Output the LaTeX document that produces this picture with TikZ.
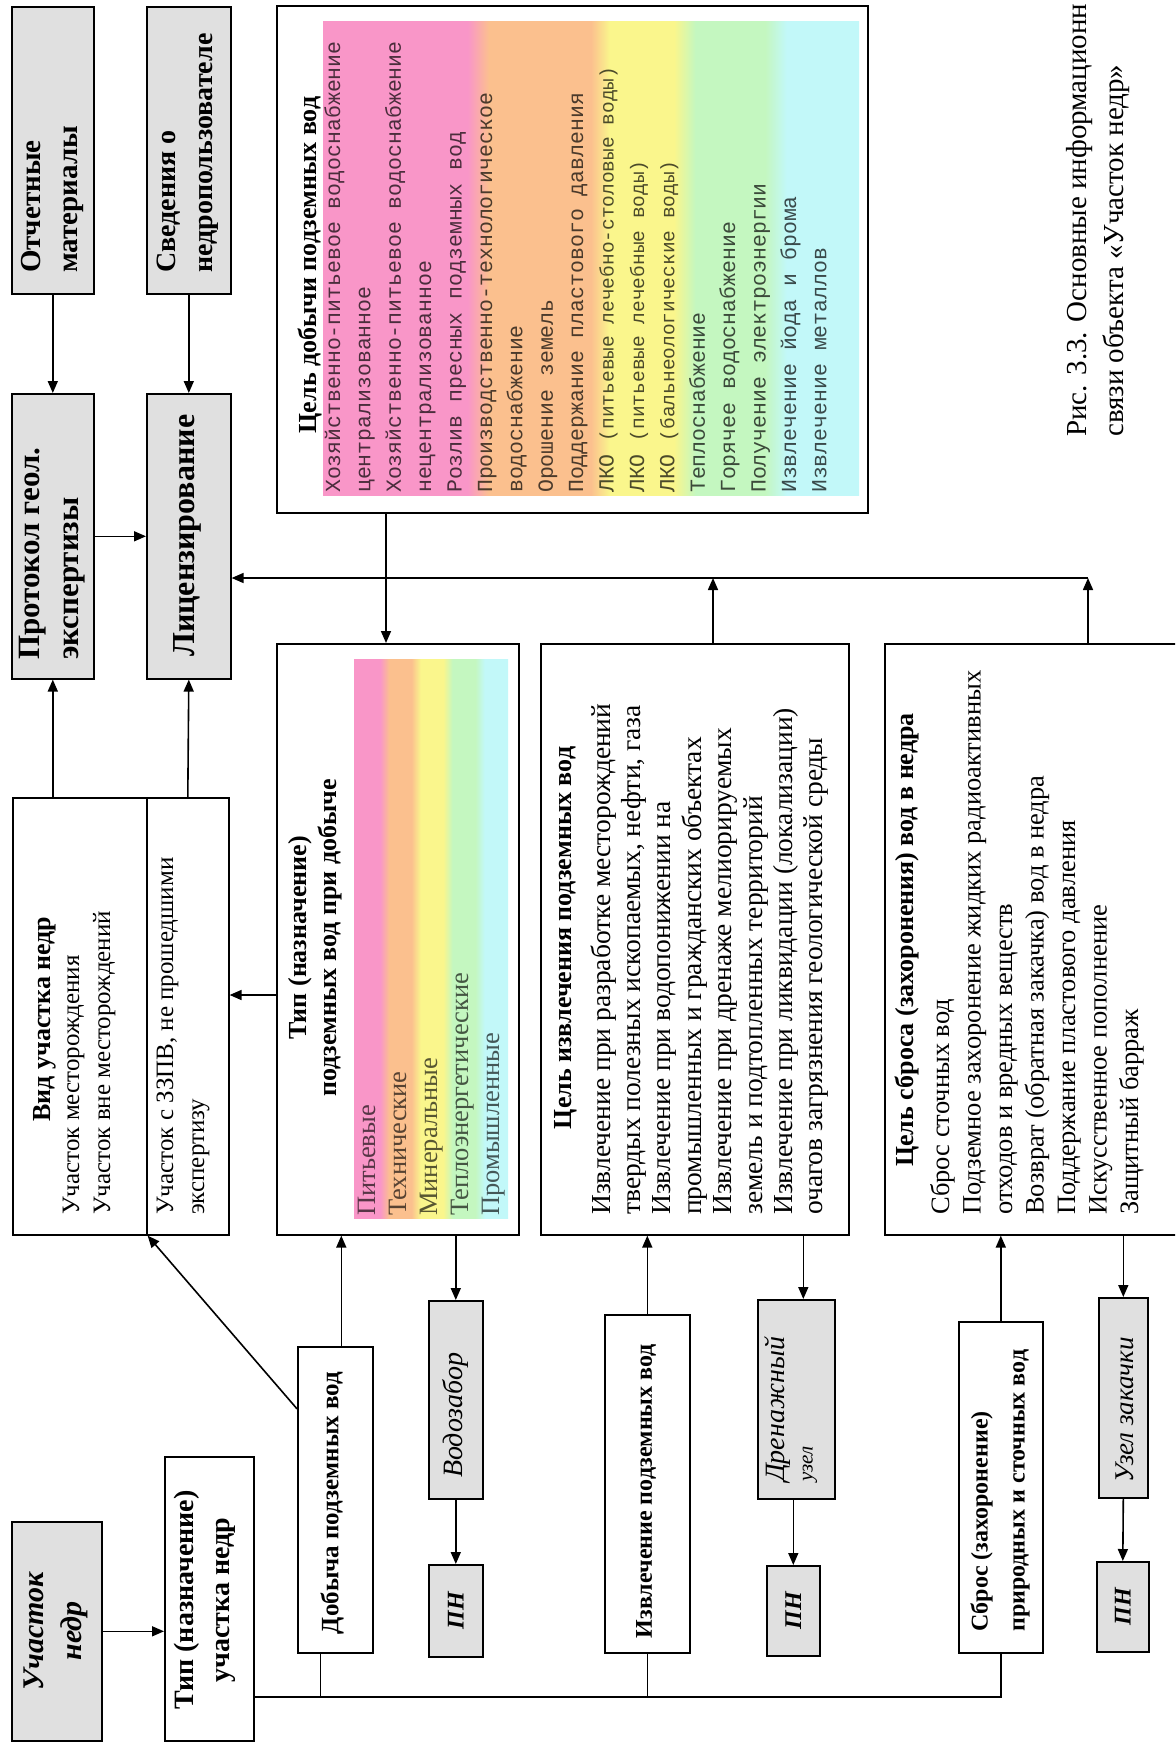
\documentclass[tikz,border=0pt]{standalone}
\usepackage{fontspec}
\setmainfont{Liberation Serif}
\newfontfamily\listfont{Liberation Mono}
\usetikzlibrary{positioning,arrows.meta}

\definecolor{bandpink}{RGB}{249,150,200}
\definecolor{bandorange}{RGB}{251,192,142}
\definecolor{bandyellow}{RGB}{250,246,140}
\definecolor{bandgreen}{RGB}{196,247,192}
\definecolor{bandcyan}{RGB}{194,248,249}
\definecolor{boxgrey}{RGB}{224,224,224}

% rainbow strips behind the lists (path is mapped onto 25bp..75bp)
\pgfdeclarehorizontalshading{goalbands}{100bp}{color(0bp)=(bandpink); color(38.5bp)=(bandpink);
  color(40.5bp)=(bandorange); color(50bp)=(bandorange); color(51.75bp)=(bandyellow);
  color(57.75bp)=(bandyellow); color(59.75bp)=(bandgreen); color(66.25bp)=(bandgreen);
  color(68.25bp)=(bandcyan); color(100bp)=(bandcyan)}
\pgfdeclarehorizontalshading{typbands}{100bp}{color(0bp)=(bandpink); color(33.5bp)=(bandpink);
  color(36.5bp)=(bandorange); color(43.65bp)=(bandorange); color(46.65bp)=(bandyellow);
  color(54bp)=(bandyellow); color(57bp)=(bandgreen); color(64.4bp)=(bandgreen);
  color(67.4bp)=(bandcyan); color(100bp)=(bandcyan)}

\newcommand\smallmono{\fontsize{19.5}{24}\selectfont}

\begin{document}
\begin{tikzpicture}[x=1pt, y=-1pt,
  boxframe/.style={draw, line width=1.6pt, inner sep=0pt, anchor=north west},
  greybox/.style={boxframe, fill=boxgrey},
  plainbox/.style={boxframe, fill=white},
  dims/.style 2 args={minimum width=#1, minimum height=#2},
  txt/.style={rotate=90, inner sep=0pt},
  greylabel/.style={txt, anchor=west, align=left, font=\bfseries\fontsize{29}{37}\selectfont},
  boxhead/.style={txt, align=center, font=\bfseries\fontsize{26}{30}\selectfont},
  entry/.style={txt, anchor=west, font=\fontsize{26.5}{30}\selectfont, text height=18pt, text depth=6pt},
  listentry/.style={txt, anchor=west, font=\listfont\fontsize{21.5}{26}\selectfont, text height=15pt, text depth=5pt},
  stage/.style={txt, align=center, font=\bfseries\fontsize{25}{37}\selectfont},
  tagtext/.style={txt, font=\bfseries\itshape\fontsize{24}{28}\selectfont},
  arr/.style={line width=1.6pt, -{Triangle[length=12pt, width=10pt]}},
  wire/.style={line width=1.6pt}]

\useasboundingbox (0,0) rectangle (1175,1742);
\fill[white] (0,0) rectangle (1175,1742);
\clip (0,0) rectangle (1175,1742);

% boxes
\node[greybox, dims={82}{287}] (otch) at (11,6) {};
\node[greybox, dims={84}{287}] (sved) at (146,6) {};
\node[greybox, dims={82}{285}] (prot) at (11,393) {};
\node[greybox, dims={84}{285}] (lic) at (146,393) {};
\node[plainbox, dims={591}{507}] (goal) at (276,5) {};
\node[plainbox, dims={134}{437}] (vidA) at (12,797) {};
\node[plainbox, dims={82}{437}] (vidB) at (146,797) {};
\node[plainbox, dims={242}{591}] (typ) at (276,643) {};
\node[plainbox, dims={308}{591}] (izv) at (540,643) {};
\node[plainbox, dims={330}{591}] (sbr) at (884,643) {};
\node[greybox, dims={90}{219}] (uch) at (11,1521) {};
\node[plainbox, dims={89}{284}] (tipu) at (164,1456) {};
\node[plainbox, dims={75}{306}] (dob) at (297,1346) {};
\node[greybox, dims={54}{198}] (vz) at (428,1300) {};
\node[greybox, dims={54}{92}] (pn1) at (428,1564) {};
\node[plainbox, dims={85}{338}] (ext) at (604,1314) {};
\node[greybox, dims={77}{199}] (dren) at (757,1299) {};
\node[greybox, dims={53}{90}] (pn2) at (766,1565) {};
\node[plainbox, dims={84}{331}] (dis) at (958,1321) {};
\node[greybox, dims={49}{200}] (uz) at (1098,1297) {};
\node[greybox, dims={52}{90}] (pn3) at (1096,1561) {};

\shade[shading=goalbands] (323,22) rectangle (859,495);
\shade[shading=typbands] (354,659) rectangle (508,1218);

% labels
\node[greylabel] (otchT) at (52,273) {Отчетные\\материалы};
\node[greylabel, font=\bfseries\fontsize{28}{37}\selectfont] (svedT) at (188,273) {Сведения о\\недропользователе};
\node[greylabel, font=\bfseries\fontsize{31}{39}\selectfont] (protT) at (52,660) {Протокол геол.\\экспертизы};
\node[greylabel, font=\bfseries\fontsize{32}{37}\selectfont] (licT) at (187,657) {Лицензирование};

\node[boxhead] (goalT) at (310,265) {Цель добычи подземных вод};
\foreach \lbl/\col [count=\n] in {
    Хозяйственно-питьевое водоснабжение/bandpink, централизованное/bandpink,
    Хозяйственно-питьевое водоснабжение/bandpink, нецентрализованное/bandpink,
    Розлив пресных подземных вод/bandpink,
    Производственно-технологическое/bandorange, водоснабжение/bandorange,
    Орошение земель/bandorange, Поддержание пластового давления/bandorange,
    {ЛКО \smallmono(питьевые лечебно-столовые воды)}/bandyellow,
    {ЛКО \smallmono(питьевые лечебные воды)}/bandyellow,
    {ЛКО \smallmono(бальнеологические воды)}/bandyellow,
    Теплоснабжение/bandgreen, Горячее водоснабжение/bandgreen,
    Получение электроэнергии/bandgreen,
    Извлечение йода и брома/bandcyan, Извлечение металлов/bandcyan}
  \node[listentry, text=\col!30!black] at (304.6+30.4*\n, 493) {\lbl};

\node[boxhead] (vidT) at (45,1019) {Вид участка недр};
\foreach \lbl [count=\n] in {Участок месторождения, Участок вне месторождений}
  \node[entry, font=\fontsize{25}{30}\selectfont] at (42+31*\n, 1215) {\lbl};
\foreach \lbl [count=\n] in {{Участок с ЗЗПВ, не прошедшими}, экспертизу}
  \node[entry, font=\fontsize{25}{30}\selectfont] at (136+31*\n, 1215) {\lbl};

\node[boxhead] (typT) at (315,938) {Тип (назначение)\\подземных вод при добыче};
\foreach \lbl/\col [count=\n] in {Питьевые/bandpink, Технические/bandorange,
    Минеральные/bandyellow, Теплоэнергетические/bandgreen, Промышленные/bandcyan}
  \node[entry, text=\col!35!black] at (338+31*\n, 1216) {\lbl};

\node[boxhead] (izvT) at (566,938) {Цель извлечения подземных вод};
\foreach \lbl [count=\n] in {Извлечение при разработке месторождений,
    {твердых полезных ископаемых, нефти, газа},
    Извлечение при водопонижении на, промышленных и гражданских объектах,
    Извлечение при дренаже мелиорируемых, земель и подтопленных территорий,
    Извлечение при ликвидации (локализации), очагов загрязнения геологической среды}
  \node[entry, font=\fontsize{27.5}{30}\selectfont] at (573.6+30.4*\n, 1215) {\lbl};

\node[boxhead] (sbrT) at (907,940) {Цель сброса (захоронения) вод в недра};
\foreach \lbl [count=\n] in {Сброс сточных вод, Подземное захоронение жидких радиоактивных,
    отходов и вредных веществ, Возврат (обратная закачка) вод в недра,
    Поддержание пластового давления, Искусственное пополнение, Защитный барраж}
  \node[entry] at (911.5+31.5*\n, 1215) {\lbl};

\node[tagtext, align=center, font=\bfseries\itshape\fontsize{30}{38}\selectfont] (uchT) at (56,1631) {Участок\\недр};
\node[stage, font=\bfseries\fontsize{28}{36}\selectfont] (tipuT) at (205,1600) {Тип (назначение)\\участка недр};
\node[stage] (dobT) at (332,1503) {Добыча подземных вод};
\node[stage, font=\bfseries\fontsize{24}{30}\selectfont] (extT) at (646,1491) {Извлечение подземных вод};
\node[stage, anchor=west, align=left, font=\bfseries\fontsize{24}{37}\selectfont] (disT) at (1000,1632) {Сброс (захоронение)\\природных и сточных вод};
\node[tagtext, anchor=west, font=\itshape\fontsize{28}{30}\selectfont] (vzT) at (455,1478) {Водозабор};
\node[tagtext, anchor=west, font=\itshape\fontsize{28}{30}\selectfont] (drenT) at (778,1482) {Дренажный};
\node[tagtext, anchor=west, font=\itshape\fontsize{21}{25}\selectfont] (drenU) at (810,1482) {узел};
\node[tagtext, anchor=west, font=\itshape\fontsize{27}{30}\selectfont] (uzT) at (1125,1483) {Узел закачки};
\foreach \b in {pn1, pn2, pn3}
  \node[tagtext] at (\b) {ПН};

\node[txt, anchor=west, align=left, font=\fontsize{29}{37}\selectfont] (caption) at (1098,437) {Рис. 3.3. Основные информационн\\связи объекта «Участок недр»};

% connectors
\draw[arr] (otch.south) -- (prot.north);
\draw[arr] (sved.south) -- (lic.north);
\draw[arr] (prot.east) -- (lic.west);
\draw[arr] (vidA.north -| prot.south) -- (prot.south);
\draw[arr] (vidB.north) -- (lic.south);

\coordinate (fbs) at (1088,578);
\coordinate (fbi) at (713,578);
\coordinate (fbg) at (386,0);
\draw[arr] (sbr.north -| fbs) -- (fbs);
\draw[arr] (izv.north -| fbi) -- (fbi);
\draw[arr] (fbs) -- (lic.east |- fbs);
\draw[arr] (goal.south -| fbg) -- (typ.north -| fbg);

\coordinate (tv) at (0,995);
\draw[arr] (typ.west |- tv) -- (vidB.east |- tv);
\draw[arr] ([xshift=6pt]dob.north) -- ([xshift=6pt]dob.north |- typ.south);
\draw[arr] ([yshift=91pt]dob.west) -- (vidA.south east);
\draw[arr] (typ.south -| vz.north) -- (vz.north);
\draw[arr] (vz.south) -- (pn1.north);
\draw[arr] ([xshift=7pt]dren.north |- izv.south) -- ([xshift=7pt]dren.north);
\draw[arr] (dren.south -| pn2.north) -- (pn2.north);
\draw[arr] (ext.north) -- (ext.north |- izv.south);
\draw[arr] (dis.north) -- (dis.north |- sbr.south);
\draw[arr] (sbr.south -| uz.north) -- (uz.north);
\draw[arr] (uz.south) -- (pn3.north);
\draw[arr] (uch.east) -- (uch.east -| tipu.west);

\coordinate (bus) at (0,1697);
\draw[wire] (tipu.east |- bus) -| (dis.south);
\draw[wire] ([xshift=-15pt]dob.south) -- ([xshift=-15pt]dob.south |- bus);
\draw[wire] (ext.south) -- (ext.south |- bus);
\end{tikzpicture}
\end{document}
